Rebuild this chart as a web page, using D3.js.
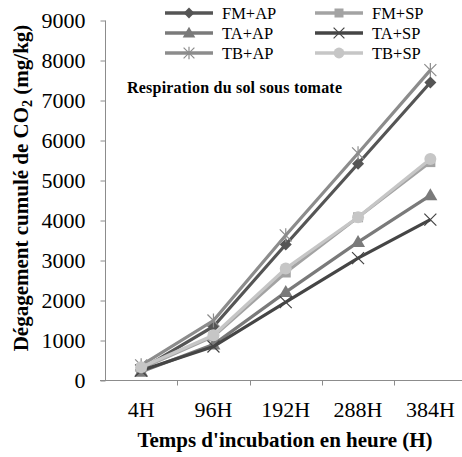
<!DOCTYPE html>
<html><head><meta charset="utf-8">
<script src="https://cdn.jsdelivr.net/npm/d3@7"></script>
<style>body{margin:0;background:#fff}svg{display:block}svg text{font-family:"Liberation Serif","Times New Roman","DejaVu Serif",serif}</style>
</head><body><svg id="c" width="462" height="457"></svg>
<script>
const categories = ["4H","96H","192H","288H","384H"];
const seriesNames = ["FM+AP","FM+SP","TA+AP","TA+SP","TB+AP","TB+SP"];
const fmAP = [280,1350,3400,5420,7450];
const fmSP = [300,1100,2700,4080,5460];
const taAP = [220,900,2210,3460,4630];
const taSP = [250,850,1960,3060,4020];
const tbAP = [380,1500,3630,5680,7760];
const tbSP = [330,1130,2800,4080,5540];
const yTicks = [0,1000,2000,3000,4000,5000,6000,7000,8000,9000];

const series = [
  {name:"FM+AP", values:fmAP, color:"#555555", marker:"diamond"},
  {name:"FM+SP", values:fmSP, color:"#a3a3a3", marker:"square"},
  {name:"TA+AP", values:taAP, color:"#7a7a7a", marker:"triangle"},
  {name:"TA+SP", values:taSP, color:"#454545", marker:"x"},
  {name:"TB+AP", values:tbAP, color:"#8c8c8c", marker:"star"},
  {name:"TB+SP", values:tbSP, color:"#c6c6c6", marker:"circle"}
];

const svg = d3.select("#c");
const x = d3.scaleBand().domain(categories).range([105,466.5]);
const y = d3.scaleLinear().domain([0,9000]).range([380.5,20.5]);

// axes
const yAxis = svg.append("g").attr("transform","translate(105.5,0)")
  .call(d3.axisLeft(y).tickValues(yTicks).tickSize(5).tickPadding(15).tickFormat(d3.format("d")));
yAxis.attr("font-family",null);
yAxis.select(".domain").attr("stroke","#8c8c8c").attr("d","M-0,20.5V380.5");
yAxis.selectAll(".tick line").attr("stroke","#8c8c8c");
yAxis.selectAll("text").attr("font-size",22).attr("fill","#000").attr("dy","0.33em");

const xg = svg.append("g").attr("transform","translate(0,380.5)");
xg.append("line").attr("x1",100).attr("x2",466.5).attr("stroke","#8c8c8c");
categories.forEach((c,i)=>{
  const bx = Math.round(x(c)+x.bandwidth())+0.5;
  xg.append("line").attr("x1",bx).attr("x2",bx).attr("y1",0).attr("y2",5).attr("stroke","#8c8c8c");
  xg.append("text").attr("x",x(c)+x.bandwidth()/2).attr("y",36.5).attr("text-anchor","middle")
    .attr("font-size",22).attr("fill","#000").text(c);
});

// titles
svg.append("text").attr("transform","translate(28,188) rotate(-90)").attr("text-anchor","middle")
  .attr("font-weight","bold").attr("font-size",21)
  .html('Dégagement cumulé de CO<tspan font-size="14" dy="4">2</tspan><tspan dy="-4"> (mg/kg)</tspan>');
svg.append("text").attr("x",285).attr("y",447).attr("text-anchor","middle")
  .attr("font-weight","bold").attr("font-size",21).text("Temps d'incubation en heure (H)");
svg.append("text").attr("x",127).attr("y",93)
  .attr("font-weight","bold").attr("font-size",16).attr("textLength",215).text("Respiration du sol sous tomate");

function drawMarker(g, type, cx, cy, color, s){
  s = s||1;
  if(type==="diamond") g.append("path").attr("d",`M${cx},${cy-6*s}L${cx+6*s},${cy}L${cx},${cy+6*s}L${cx-6*s},${cy}Z`).attr("fill",color);
  else if(type==="square") g.append("rect").attr("x",cx-5*s).attr("y",cy-5*s).attr("width",10*s).attr("height",10*s).attr("fill",color);
  else if(type==="triangle") g.append("path").attr("d",`M${cx},${cy-7*s}L${cx+7*s},${cy+5*s}L${cx-7*s},${cy+5*s}Z`).attr("fill",color);
  else if(type==="circle") g.append("circle").attr("cx",cx).attr("cy",cy).attr("r",6*s).attr("fill",color);
  else if(type==="x") g.append("path").attr("d",`M${cx-6*s},${cy-6*s}L${cx+6*s},${cy+6*s}M${cx-6*s},${cy+6*s}L${cx+6*s},${cy-6*s}`).attr("stroke",color).attr("stroke-width",1.2);
  else if(type==="star") g.append("path").attr("d",`M${cx-6*s},${cy-6*s}L${cx+6*s},${cy+6*s}M${cx-6*s},${cy+6*s}L${cx+6*s},${cy-6*s}M${cx},${cy-7*s}L${cx},${cy+7*s}`).attr("stroke",color).attr("stroke-width",1.2);
}

const line = d3.line().x((d,i)=>x(categories[i])+x.bandwidth()/2).y(d=>y(d));
const plot = svg.append("g");
series.forEach(s=>{
  plot.append("path").attr("d",line(s.values)).attr("fill","none").attr("stroke",s.color).attr("stroke-width",3.2);
  s.values.forEach((v,i)=>drawMarker(plot,s.marker,x(categories[i])+x.bandwidth()/2,y(v),s.color,1));
});

// legend
const leg = svg.append("g");
series.forEach((s,i)=>{
  const col = i%2, row = Math.floor(i/2);
  const lx = col===0?165:315, ly = 13+row*20;
  leg.append("line").attr("x1",lx).attr("x2",lx+48).attr("y1",ly).attr("y2",ly).attr("stroke",s.color).attr("stroke-width",3.5);
  drawMarker(leg,s.marker,lx+24,ly,s.color,0.9);
  leg.append("text").attr("x",lx+57).attr("y",ly+5.5).attr("font-size",16.5).attr("fill","#000").text(s.name);
});
</script></body></html>
